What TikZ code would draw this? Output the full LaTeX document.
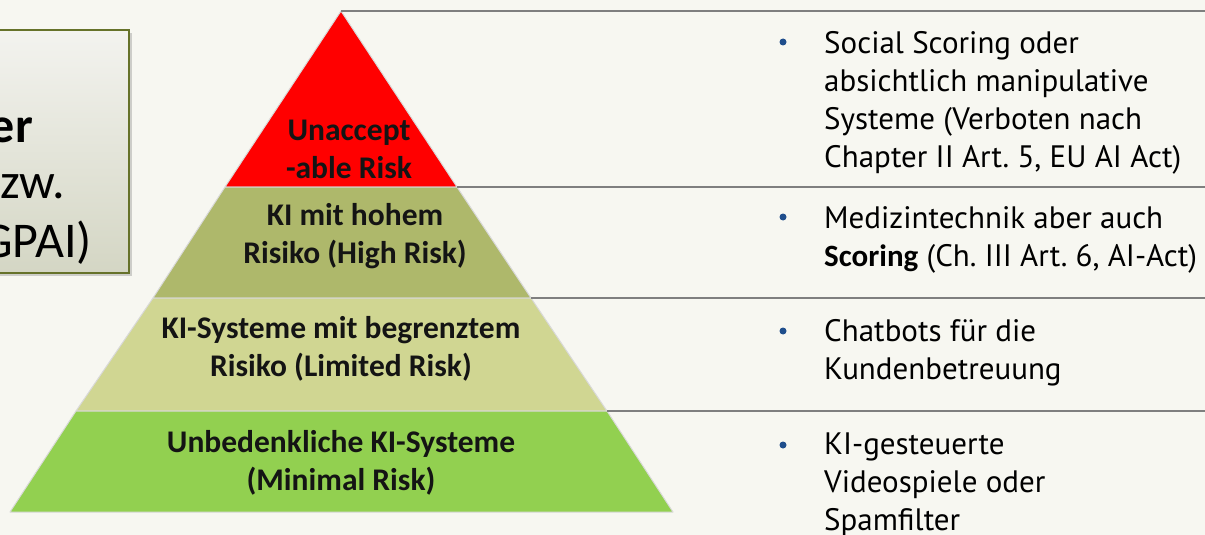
\documentclass[tikz,border=0pt]{standalone}
\usepackage{fontspec}
\setmainfont{Carlito}
\newfontfamily\listfont{PT Sans}
\usetikzlibrary{positioning, shadows}

\definecolor{bgcream}{HTML}{F7F7F1}
\definecolor{riskred}{HTML}{FF0000}
\definecolor{riskolive}{HTML}{AEB86B}
\definecolor{risklight}{HTML}{D0D692}
\definecolor{riskgreen}{HTML}{92D050}
\definecolor{rulegray}{HTML}{7F7F7F}
\definecolor{bulletblue}{HTML}{1F4E8C}
\definecolor{boxborder}{HTML}{66722A}
\definecolor{boxtop}{HTML}{F3F3EF}
\definecolor{boxbottom}{HTML}{D4D6C4}

\begin{document}
\frenchspacing
\begin{tikzpicture}[x=1pt, y=-1pt,
    band/.style={draw=black!15, line width=1pt, line join=round},
    tier/.style={font=\fontsize{31.5}{38}\selectfont\bfseries, align=center, text=black!92},
    rule/.style={draw=rulegray, line width=2.2pt},
    bullet/.style={circle, fill=bulletblue, inner sep=0pt, minimum size=7pt},
    item/.style={font=\listfont\fontsize{31}{38}\selectfont, align=left, anchor=north west, inner sep=0pt},
    boxtext/.style={font=\fontsize{50}{57}\selectfont, anchor=base east, inner sep=0pt}]

    % canvas
    \fill[bgcream] (0,0) rectangle (1205,535);
    \useasboundingbox (0,0) rectangle (1205,535);
    \clip (0,0) rectangle (1205,535);

    % box on the left, cut by the page edge
    \path[draw=boxborder, line width=2pt, top color=boxtop, bottom color=boxbottom,
          drop shadow={shadow xshift=3pt, shadow yshift=-3pt, opacity=0.35}]
        (-60,30) rectangle (129,273);
    \node[boxtext] (who) at (33,142) {\bfseries er};
    \node[boxtext] (alt) at (65,198) {bzw.};
    \node[boxtext] (gpai) at (92,257) {(GPAI)};

    % corners of the pyramid
    \coordinate (apex) at (341,11);
    \coordinate (r1l) at (225,187);
    \coordinate (r1r) at (457,187);
    \coordinate (r2l) at (153,298);
    \coordinate (r2r) at (531,298);
    \coordinate (r3l) at (76,411);
    \coordinate (r3r) at (607,411);
    \coordinate (r4l) at (10,512);
    \coordinate (r4r) at (673,512);
    \coordinate (edge) at (1205,0);

    % the four bands
    \path[band, fill=riskred] (apex) -- (r1r) -- (r1l) -- cycle;
    \path[band, fill=riskolive] (r1l) -- (r1r) -- (r2r) -- (r2l) -- cycle;
    \path[band, fill=risklight] (r2l) -- (r2r) -- (r3r) -- (r3l) -- cycle;
    \path[band, fill=riskgreen] (r3l) -- (r3r) -- (r4r) -- (r4l) -- cycle;

    % rules to the right
    \foreach \c in {apex, r1r, r2r, r3r}
        \draw[rule] (\c) -- (\c -| edge);

    % labels in the pyramid
    \node[tier] (unacc) at (349,149) {Unaccept\\-able Risk};
    \node[tier] (high) at (355,236) {KI mit hohem\\Risiko (High Risk)};
    \node[tier] (limited) at (341,349) {KI-Systeme mit begrenztem\\Risiko (Limited Risk)};
    \node[tier] (minimal) at (341,463) {Unbedenkliche KI-Systeme\\(Minimal Risk)};

    % examples
    \node[bullet] (b1) at (783,42) {};
    \node[item] (t1) at (824,31) {Social Scoring oder\\absichtlich manipulative\\Systeme (Verboten nach\\Chapter II Art. 5, EU AI Act)};
    \node[bullet] (b2) at (783,217) {};
    \node[item] (t2) at (824,206) {Medizintechnik aber auch\\{\normalfont\bfseries Scoring} (Ch. III Art. 6, AI-Act)};
    \node[bullet] (b3) at (783,331) {};
    \node[item] (t3) at (824,319) {Chatbots für die\\Kundenbetreuung};
    \node[bullet] (b4) at (783,445) {};
    \node[item] (t4) at (824,433) {KI-gesteuerte\\Videospiele oder\\Spamfilter};
\end{tikzpicture}
\end{document}
